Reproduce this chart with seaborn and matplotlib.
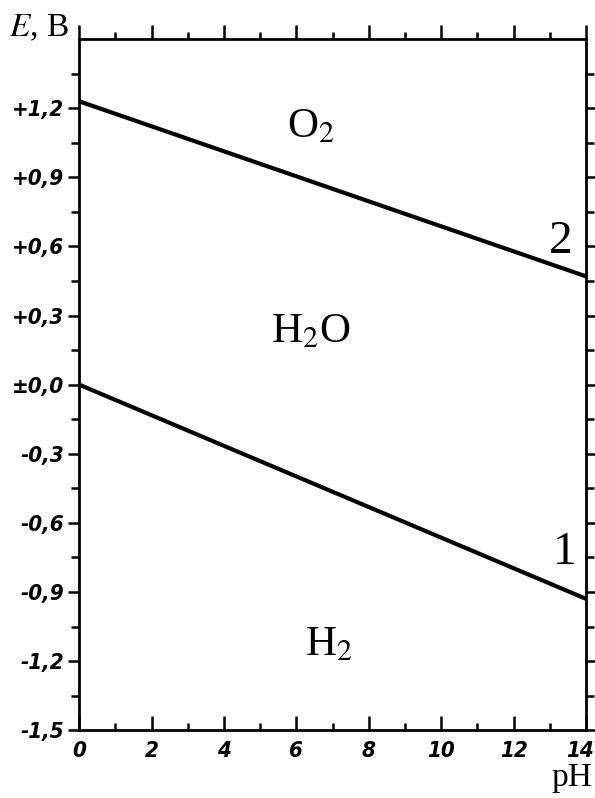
import matplotlib
matplotlib.use("Agg")
import matplotlib.pyplot as plt
import matplotlib.transforms as mtransforms
import seaborn as sns
import pandas as pd
import numpy as np

# Data
ph_points = [0, 14]
line1_E = [0.0, -0.93]    # H2 / H2O boundary (label "1")
line2_E = [1.23, 0.47]    # H2O / O2 boundary (label "2")
y_ticks = [-1.5, -1.2, -0.9, -0.6, -0.3, 0.0, 0.3, 0.6, 0.9, 1.2]
y_tick_labels = ["-1,5", "-1,2", "-0,9", "-0,6", "-0,3", "±0,0", "+0,3", "+0,6", "+0,9", "+1,2"]
x_ticks = [0, 2, 4, 6, 8, 10, 12, 14]
x_tick_labels = ["0", "2", "4", "6", "8", "10", "12", "14"]

sns.set_theme(style="white")
plt.rcParams['font.family'] = ['Liberation Serif', 'DejaVu Serif']
plt.rcParams['mathtext.fontset'] = 'stix'
plt.rcParams['text.color'] = 'black'
plt.rcParams['xtick.labelcolor'] = 'black'
plt.rcParams['ytick.labelcolor'] = 'black'

df = pd.DataFrame({
    "pH": ph_points * 2,
    "E": line1_E + line2_E,
    "line": ["1", "1", "2", "2"],
})

fig = plt.figure(figsize=(5.95, 7.98), dpi=100)
ax = fig.add_axes([0.133, 0.085, 0.852, 0.866])

sns.lineplot(data=df, x="pH", y="E", units="line", estimator=None,
             color="black", linewidth=3.0, ax=ax, legend=False)

ax.set_xlim(0, 14)
ax.set_ylim(-1.5, 1.5)
ax.set_xlabel("")
ax.set_ylabel("")

for s in ax.spines.values():
    s.set_visible(True)
    s.set_color("black")
    s.set_linewidth(2.0)

tick_font = dict(family=['DejaVu Sans'], style='italic', size=16,
                 stretch='condensed', weight='bold')

ax.set_yticks(y_ticks)
ax.set_yticklabels(y_tick_labels, fontdict=tick_font)
ax.set_xticks(x_ticks)
ax.set_xticklabels(x_tick_labels, fontdict=tick_font)
ax.set_xticks(np.arange(1, 14, 2), minor=True)
ax.set_yticks(np.arange(-1.35, 1.5, 0.3), minor=True)

ax.tick_params(axis='y', which='both', left=True, right=True, direction='out',
               color='black', width=1.8, labelleft=True)
ax.tick_params(axis='y', which='major', length=8, pad=3)
ax.tick_params(axis='y', which='minor', length=6)
ax.tick_params(axis='x', which='both', bottom=True, top=True, color='black', width=1.8)
ax.tick_params(axis='x', which='major', length=10, pad=8, direction='in')
ax.tick_params(axis='x', which='minor', length=5, direction='in')
# top ticks outward
for t in ax.xaxis.get_major_ticks():
    t.tick2line.set_marker(matplotlib.lines.TICKUP)
    t.tick2line.set_markersize(10)
for t in ax.xaxis.get_minor_ticks():
    t.tick2line.set_marker(matplotlib.lines.TICKUP)
    t.tick2line.set_markersize(5)

# keep last x tick label inside the figure
last = ax.get_xticklabels()[-1]
last.set_transform(last.get_transform() +
                   mtransforms.ScaledTranslation(-6 / 100, 0, fig.dpi_scale_trans))

# Region labels
ax.text(6.4, 1.12, "O$_2$", fontsize=31, ha="center", va="center")
ax.text(6.4, 0.23, "H$_2$O", fontsize=31, ha="center", va="center")
ax.text(6.9, -1.13, "H$_2$", fontsize=31, ha="center", va="center")
ax.text(13.3, 0.62, "2", fontsize=34, ha="center", va="center")
ax.text(13.4, -0.73, "1", fontsize=34, ha="center", va="center")

fig.text(0.015, 0.965, "$\\mathit{E}$, В", fontsize=24, ha="left", va="center")
fig.text(0.995, 0.025, "pH", fontsize=24, ha="right", va="center")

fig.savefig("out.png", dpi=100, facecolor="white")
